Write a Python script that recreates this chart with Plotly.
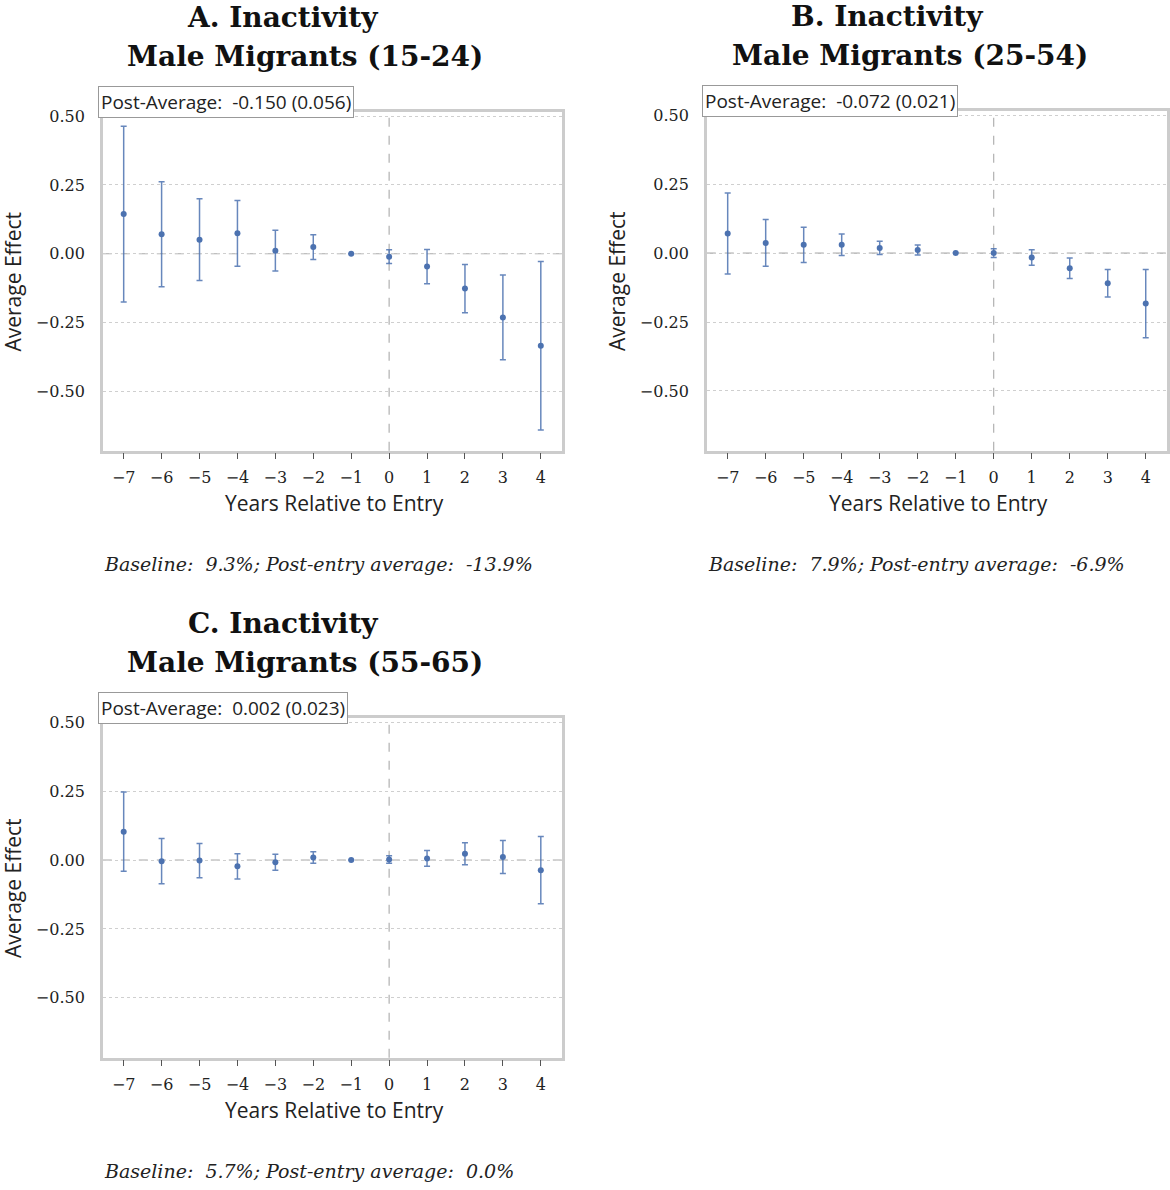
import plotly.graph_objects as go

W, H = 1170, 1190

years = [-7, -6, -5, -4, -3, -2, -1, 0, 1, 2, 3, 4]
x_tick_labels = ["−7", "−6", "−5", "−4", "−3", "−2", "−1", "0", "1", "2", "3", "4"]
y_tick_vals = [0.5, 0.25, 0.0, -0.25, -0.5]
y_tick_labels = ["0.50", "0.25", "0.00", "−0.25", "−0.50"]

# Panel A: Male Migrants (15-24)
est_a = [0.144, 0.071, 0.051, 0.074, 0.011, 0.024, 0.0, -0.011, -0.047, -0.127, -0.232, -0.335]
ci_a = [0.320, 0.191, 0.149, 0.120, 0.074, 0.045, 0.0, 0.025, 0.062, 0.088, 0.154, 0.307]
# Panel B: Male Migrants (25-54)
est_b = [0.071, 0.037, 0.030, 0.030, 0.019, 0.011, 0.0, 0.0, -0.016, -0.055, -0.109, -0.183]
ci_b = [0.147, 0.085, 0.064, 0.039, 0.024, 0.018, 0.0, 0.016, 0.028, 0.037, 0.050, 0.124]
# Panel C: Male Migrants (55-65)
est_c = [0.103, -0.004, -0.002, -0.023, -0.008, 0.009, 0.0, 0.002, 0.006, 0.023, 0.011, -0.037]
ci_c = [0.144, 0.082, 0.062, 0.046, 0.029, 0.021, 0.0, 0.014, 0.029, 0.040, 0.060, 0.122]

titles_1 = ["A. Inactivity", "B. Inactivity", "C. Inactivity"]
titles_2 = ["Male Migrants (15-24)", "Male Migrants (25-54)", "Male Migrants (55-65)"]
post_avg = ["Post-Average:  -0.150 (0.056)", "Post-Average:  -0.072 (0.021)", "Post-Average:  0.002 (0.023)"]
captions = ["Baseline:  9.3%; Post-entry average:  -13.9%",
            "Baseline:  7.9%; Post-entry average:  -6.9%",
            "Baseline:  5.7%; Post-entry average:  0.0%"]

x_label = "Years Relative to Entry"
y_label = "Average Effect"

BLUE = "#4c72b0"
SERIF = "DejaVu Serif"
SANS = "Open Sans"

# panel frames in window pixels: (left, right, top, bottom)
frames = [(103, 563, 111, 451), (708, 1169, 110, 451), (103, 563, 720, 1061)]
series = [(est_a, ci_a), (est_b, ci_b), (est_c, ci_c)]


def px(xw):
    return xw / W


def py(yw):
    return 1 - yw / H


fig = go.Figure()
annotations = []
shapes = []

for i, ((l, r, t, b), (est, ci)) in enumerate(zip(frames, series)):
    n = "" if i == 0 else str(i + 1)
    xa, ya = "x" + n, "y" + n
    fig.add_trace(go.Scatter(
        x=years, y=est, mode="markers", xaxis=xa, yaxis=ya,
        marker=dict(color=BLUE, size=6),
        error_y=dict(type="data", array=ci, visible=True,
                     color="rgba(76,114,176,0.85)", thickness=1.5, width=3),
        showlegend=False, cliponaxis=False, hoverinfo="skip",
    ))
    common_x = dict(
        domain=[px(l), min(px(r), 1.0)], range=[-7.55, 4.56], anchor=ya,
        tickvals=years, ticktext=x_tick_labels, ticks="outside", ticklen=6,
        tickwidth=1, tickcolor="#555555", ticklabelstandoff=4,
        tickfont=dict(family=SERIF, size=16, color="#222222"),
        showgrid=False, zeroline=False,
        showline=True, mirror=True, linecolor="#cccccc", linewidth=2.5,
    )
    common_y = dict(
        domain=[py(b), py(t)], range=[-0.717, 0.514], anchor=xa,
        tickvals=y_tick_vals, ticktext=y_tick_labels, ticks="",
        ticklabelstandoff=12,
        tickfont=dict(family=SERIF, size=16, color="#222222"),
        showgrid=True, gridcolor="#cfcfcf", gridwidth=0.8, griddash="dot",
        zeroline=False,
        showline=True, mirror=True, linecolor="#cccccc", linewidth=2.5,
    )
    fig.update_layout(**{("xaxis" + n): common_x, ("yaxis" + n): common_y})

    # reference lines at y=0 and x=0
    shapes.append(dict(type="line", xref=xa + " domain", yref=ya, x0=0, x1=1, y0=0, y1=0,
                       line=dict(color="#aaaaaa", width=1.1, dash="dash"), layer="below"))
    shapes.append(dict(type="line", xref=xa, yref=ya + " domain", x0=0, x1=0, y0=0, y1=1,
                       line=dict(color="#aaaaaa", width=1.1, dash="dash"), layer="below"))

    cx = (l + r) / 2
    # titles
    annotations.append(dict(text="<b>" + titles_1[i] + "</b>", xref="paper", yref="paper",
                            x=px(cx - 50), y=py(t - 95), xanchor="center", yanchor="middle",
                            showarrow=False, font=dict(family=SERIF, size=28, color="#111111")))
    annotations.append(dict(text="<b>" + titles_2[i] + "</b>", xref="paper", yref="paper",
                            x=px(cx - 27), y=py(t - 56), xanchor="center", yanchor="middle",
                            showarrow=False, font=dict(family=SERIF, size=28, color="#111111")))
    # post-average box
    annotations.append(dict(text=post_avg[i], xref="paper", yref="paper",
                            x=px(l - 5), y=py(t - 10), xanchor="left", yanchor="middle",
                            showarrow=False, font=dict(family=SANS, size=19, color="#222222"),
                            bgcolor="white", bordercolor="#999999", borderwidth=1, borderpad=2))
    # axis titles
    annotations.append(dict(text=x_label, xref="paper", yref="paper",
                            x=px(cx + 2), y=py(b + 53), xanchor="center", yanchor="middle",
                            showarrow=False, font=dict(family=SANS, size=21, color="#222222")))
    annotations.append(dict(text=y_label, xref="paper", yref="paper",
                            x=px(l - 90), y=py((t + b) / 2), xanchor="center", yanchor="middle",
                            textangle=-90, showarrow=False,
                            font=dict(family=SANS, size=21, color="#222222")))
    # caption
    annotations.append(dict(text="<i>" + captions[i] + "</i>", xref="paper", yref="paper",
                            x=px(l - 1), y=py(b + 114), xanchor="left", yanchor="middle",
                            showarrow=False, font=dict(family=SERIF, size=19, color="#222222")))

fig.update_layout(
    width=W, height=H, margin=dict(l=0, r=0, t=0, b=0),
    paper_bgcolor="white", plot_bgcolor="white",
    annotations=annotations, shapes=shapes, hovermode=False,
)

# pin the figure to the window's top-left corner
post = ("document.body.style.margin='0';document.body.style.padding='0';"
        "var d=document.getElementById('{plot_id}');"
        "d.style.position='absolute';d.style.left='0px';d.style.top='-4px';")
fig.write_html("out.html", post_script=post, config={"displayModeBar": False})
